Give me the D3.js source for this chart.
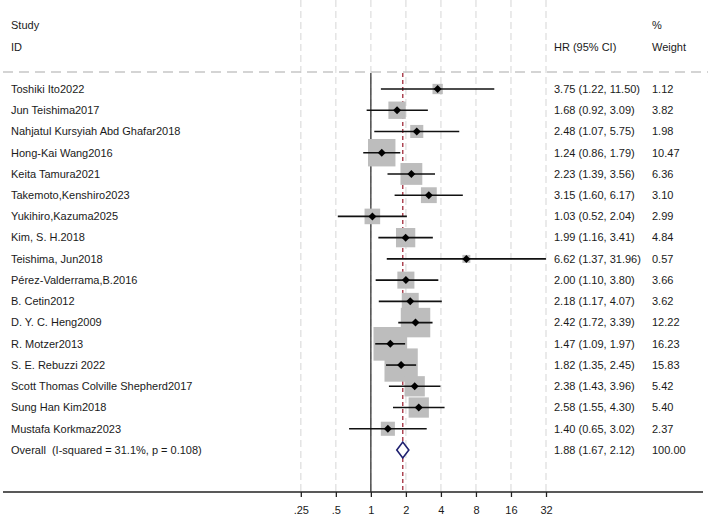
<!DOCTYPE html>
<html>
<head>
<meta charset="utf-8">
<script src="https://cdn.jsdelivr.net/npm/d3@7"></script>
<style>
  html, body { margin: 0; padding: 0; background: #fff; }
  svg { display: block; font-family: "Liberation Sans", Arial, sans-serif; }
  text { white-space: pre; }
</style>
</head>
<body>
<svg id="chart" width="708" height="518"></svg>
<script>
// ---- data ----
const studies = [
  "Toshiki Ito2022",
  "Jun Teishima2017",
  "Nahjatul Kursyiah Abd Ghafar2018",
  "Hong-Kai Wang2016",
  "Keita Tamura2021",
  "Takemoto,Kenshiro2023",
  "Yukihiro,Kazuma2025",
  "Kim, S. H.2018",
  "Teishima, Jun2018",
  "Pérez-Valderrama,B.2016",
  "B. Cetin2012",
  "D. Y. C. Heng2009",
  "R. Motzer2013",
  "S. E. Rebuzzi 2022",
  "Scott Thomas Colville Shepherd2017",
  "Sung Han Kim2018",
  "Mustafa Korkmaz2023"
];
const hr    = [3.75, 1.68, 2.48, 1.24, 2.23, 3.15, 1.03, 1.99, 6.62, 2.00, 2.18, 2.42, 1.47, 1.82, 2.38, 2.58, 1.40];
const lower = [1.22, 0.92, 1.07, 0.86, 1.39, 1.60, 0.52, 1.16, 1.37, 1.10, 1.17, 1.72, 1.09, 1.35, 1.43, 1.55, 0.65];
const upper = [11.50, 3.09, 5.75, 1.79, 3.56, 6.17, 2.04, 3.41, 31.96, 3.80, 4.07, 3.39, 1.97, 2.45, 3.96, 4.30, 3.02];
const weights = [1.12, 3.82, 1.98, 10.47, 6.36, 3.10, 2.99, 4.84, 0.57, 3.66, 3.62, 12.22, 16.23, 15.83, 5.42, 5.40, 2.37];

const overallLabel = "Overall  (I-squared = 31.1%, p = 0.108)";
const overallHR = 1.88, overallLower = 1.67, overallUpper = 2.12, overallWeight = 100.00;

const tickValues = [0.25, 0.5, 1, 2, 4, 8, 16, 32];
const tickLabels = [".25", ".5", "1", "2", "4", "8", "16", "32"];

const headerLeft = ["Study", "ID"];
const headerHR = "HR (95% CI)";
const headerWeight = ["%", "Weight"];

// ---- layout ----
const svg = d3.select("#chart");
const textColor = "#1a1a1a";
const fontSize = 11;

const x = d3.scaleLog().base(2).domain([0.25, 32]).range([300.8, 546]);
const nRows = studies.length + 1;
const y = d3.scaleLinear().domain([0, nRows - 1]).range([89, 450]);

const axisY = 492;
const headerLineY = 72;
const colLabelX = 11, colHRX = 554, colWX = 652;

const fmt2 = d3.format(".2f");
const boxSide = w => 2 + 7.86 * Math.sqrt(w);

// gridlines
svg.append("g").selectAll("line").data(tickValues).join("line")
  .attr("x1", d => x(d)).attr("x2", d => x(d))
  .attr("y1", 0).attr("y2", axisY)
  .attr("stroke", "#e2e2e2").attr("stroke-width", 1.4)
  .attr("stroke-dasharray", "7,4");

// header dashed line
svg.append("line")
  .attr("x1", 3).attr("x2", 708).attr("y1", headerLineY).attr("y2", headerLineY)
  .attr("stroke", "#c6c6c6").attr("stroke-width", 1.4).attr("stroke-dasharray", "10,6");

// header texts
const txt = (sel, tx, ty, s, anchor) => sel.append("text")
  .attr("x", tx).attr("y", ty).attr("dy", "0.35em")
  .attr("font-size", fontSize).attr("fill", textColor)
  .attr("xml:space", "preserve")
  .attr("text-anchor", anchor || "start").text(s);

txt(svg, colLabelX, 25, headerLeft[0]);
txt(svg, colLabelX, 47, headerLeft[1]);
txt(svg, colHRX, 47, headerHR);
txt(svg, colWX, 25, headerWeight[0]);
txt(svg, colWX, 47, headerWeight[1]);

// reference line at 1
svg.append("line")
  .attr("x1", x(1)).attr("x2", x(1)).attr("y1", headerLineY + 1).attr("y2", axisY)
  .attr("stroke", "#333").attr("stroke-width", 1.3);

// overall dashed red line
svg.append("line")
  .attr("x1", x(overallHR)).attr("x2", x(overallHR)).attr("y1", headerLineY + 1).attr("y2", axisY)
  .attr("stroke", "#a83a48").attr("stroke-width", 1.4).attr("stroke-dasharray", "4,3");

// studies
const rows = studies.map((s, i) => ({ s, hr: hr[i], lo: lower[i], hi: upper[i], w: weights[i], i }));

svg.append("g").selectAll("rect").data(rows).join("rect")
  .attr("x", d => x(d.hr) - boxSide(d.w) / 2)
  .attr("y", d => y(d.i) - boxSide(d.w) / 2)
  .attr("width", d => boxSide(d.w))
  .attr("height", d => boxSide(d.w))
  .attr("fill", "#bdbdbd");

svg.append("g").selectAll("line").data(rows).join("line")
  .attr("x1", d => x(d.lo)).attr("x2", d => x(d.hi))
  .attr("y1", d => y(d.i)).attr("y2", d => y(d.i))
  .attr("stroke", "#111").attr("stroke-width", 1.6);

const dm = 4;
svg.append("g").selectAll("path").data(rows).join("path")
  .attr("d", d => {
    const cx = x(d.hr), cy = y(d.i);
    return `M${cx - dm},${cy}L${cx},${cy - dm}L${cx + dm},${cy}L${cx},${cy + dm}Z`;
  })
  .attr("fill", "#000");

// row texts
const rowText = svg.append("g");
rows.forEach(d => {
  txt(rowText, colLabelX, y(d.i), d.s);
  txt(rowText, colHRX, y(d.i), `${fmt2(d.hr)} (${fmt2(d.lo)}, ${fmt2(d.hi)})`);
  txt(rowText, colWX, y(d.i), fmt2(d.w));
});

// overall
const oy = y(nRows - 1);
svg.append("path")
  .attr("d", `M${x(overallLower)},${oy}L${x(overallHR)},${oy - 8}L${x(overallUpper)},${oy}L${x(overallHR)},${oy + 8}Z`)
  .attr("fill", "#fff").attr("stroke", "#1f2070").attr("stroke-width", 1.6);
txt(svg, colLabelX, oy, overallLabel);
txt(svg, colHRX, oy, `${fmt2(overallHR)} (${fmt2(overallLower)}, ${fmt2(overallUpper)})`);
txt(svg, colWX, oy, fmt2(overallWeight));

// axis
svg.append("line")
  .attr("x1", 3).attr("x2", 703).attr("y1", axisY).attr("y2", axisY)
  .attr("stroke", "#222").attr("stroke-width", 1.5);

const axis = d3.axisBottom(x)
  .tickValues(tickValues)
  .tickFormat((d, i) => tickLabels[i])
  .tickSize(5).tickPadding(9);
const ag = svg.append("g").attr("transform", `translate(0,${axisY})`).call(axis);
ag.select(".domain").remove();
ag.selectAll(".tick line").attr("stroke", "#222").attr("stroke-width", 1.3);
ag.selectAll(".tick text").attr("font-size", fontSize).attr("fill", textColor)
  .attr("font-family", '"Liberation Sans", Arial, sans-serif');
</script>
</body>
</html>
